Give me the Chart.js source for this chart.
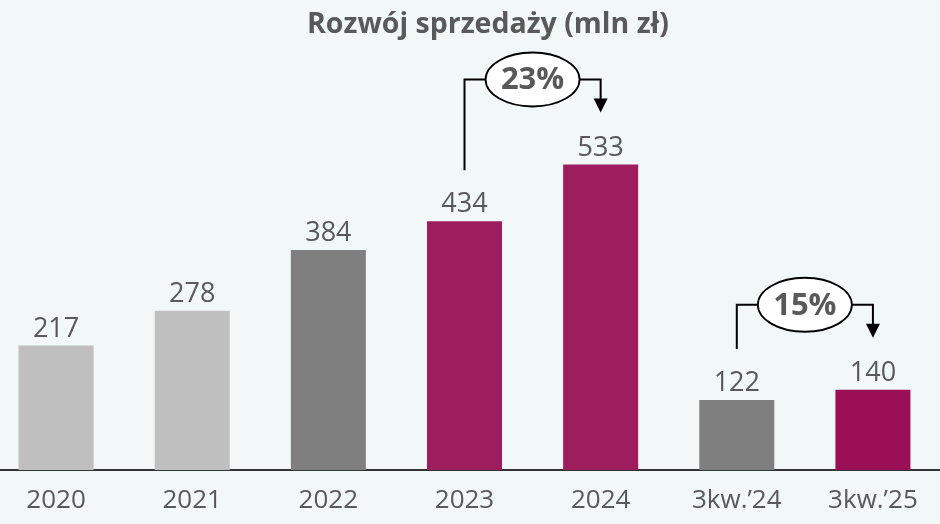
<!DOCTYPE html>
<html><head><meta charset="utf-8">
<script src="https://cdn.jsdelivr.net/npm/chart.js@4"></script>
<style>
html,body{margin:0;padding:0;background:#f2f7f7;overflow:hidden;}
#wrap{position:absolute;left:-12px;top:0;width:953px;height:524px;}
</style></head>
<body>
<div id="wrap"><canvas id="c"></canvas></div>
<script>
Chart.defaults.font.family='"Open Sans",sans-serif';
const TITLE="Rozwój sprzedaży (mln zł)";
const labels=["2020","2021","2022","2023","2024","3kw.’24","3kw.’25"];
const sales=[217,278,384,434,533,122,140];
const barColors=["#bfbfbf","#bfbfbf","#7f7f7f","#9d1d5e","#9d1d5e","#7f7f7f","#9a0f55"];
// strzałki wzrostu: od słupka -> do słupka
const growthFrom=[3,5], growthTo=[4,6], growthText=["23%","15%"];
const TXT="#595959";

const overlay={id:"overlay",afterDatasetsDraw(ch){
  const c=ch.ctx,x=ch.scales.x,y=ch.scales.y;
  c.save();
  // wartości nad słupkami
  c.fillStyle=TXT;c.font='27px "Open Sans"';c.textAlign="center";c.textBaseline="alphabetic";
  sales.forEach((v,i)=>c.fillText(String(v),x.getPixelForValue(i),y.getPixelForValue(v)-9));
  // tytuł
  c.font='bold 28.5px "Open Sans"';c.textBaseline="middle";
  c.fillText(TITLE,500,25);
  // wzrost r/r
  growthFrom.forEach((a,k)=>{
    const b=growthTo[k],xa=x.getPixelForValue(a),xb=x.getPixelForValue(b);
    const ta=y.getPixelForValue(sales[a]),tb=y.getPixelForValue(sales[b]);
    const ly=Math.min(ta,tb)-85,cx=(xa+xb)/2,tip=tb-52;
    c.strokeStyle="#000";c.lineWidth=2;
    c.beginPath();c.moveTo(xa,ta-51);c.lineTo(xa,ly);c.lineTo(xb,ly);c.lineTo(xb,tip-13);c.stroke();
    c.fillStyle="#000";c.beginPath();c.moveTo(xb-7,tip-14);c.lineTo(xb+7,tip-14);c.lineTo(xb,tip);c.closePath();c.fill();
    c.beginPath();c.ellipse(cx,ly,47,27,0,0,Math.PI*2);c.fillStyle="#fff";c.fill();c.lineWidth=1.8;c.stroke();
    c.fillStyle=TXT;c.font='bold 31px "Open Sans"';c.textBaseline="middle";
    c.fillText(growthText[k],cx,ly+1);
  });
  c.restore();
}};

new Chart(document.getElementById("c"),{type:"bar",
  data:{labels,datasets:[{data:sales,backgroundColor:barColors,barPercentage:0.551,categoryPercentage:1}]},
  options:{responsive:true,maintainAspectRatio:false,animation:false,layout:{padding:0},
    scales:{
      x:{grid:{display:false,drawTicks:false},border:{display:true,color:"#333",width:2},
        ticks:{color:TXT,font:{size:26},padding:15},afterFit:s=>{s.height=54;}},
      y:{display:false,min:0,max:820}},
    plugins:{legend:{display:false},tooltip:{enabled:false}}},
  plugins:[overlay]});
</script>
</body></html>
